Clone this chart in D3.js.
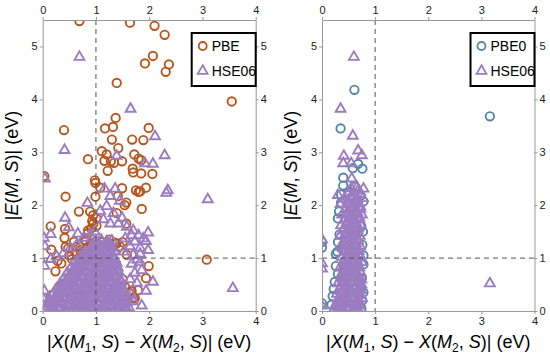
<!DOCTYPE html>
<html>
<head>
<meta charset="utf-8">
<script src="https://cdn.jsdelivr.net/npm/d3@7"></script>
<style>
body { margin: 0; background: #fff; }
text { font-family: "Liberation Sans", Arial, sans-serif; }
</style>
</head>
<body>
<script>
var svgWidth = 550;
var svgHeigth = 362;

var xTicks = [0, 1, 2, 3, 4];
var yTicks = [0, 1, 2, 3, 4, 5];

// left panel: PBE circles
var pbeLeft = [
  [0.69,5.48],[1.64,5.45],[2.10,5.39],[2.29,5.22],[2.07,4.82],[1.92,4.68],[2.37,4.66],[2.31,4.52],
  [1.39,4.31],[3.55,3.96],[1.37,3.65],[0.40,3.42],[1.17,3.45],[1.32,3.48],[1.99,3.46],[1.30,3.24],
  [1.68,3.24],[1.89,3.23],[1.42,3.08],[1.11,3.02],[1.20,2.96],[1.72,2.96],[0.85,2.87],[1.16,2.84],
  [1.34,2.80],[1.49,2.83],[1.28,2.83],[1.80,2.88],[1.85,2.85],[1.22,2.65],[1.69,2.69],[1.70,2.62],
  [1.85,2.60],[2.06,2.59],[0.03,2.55],[0.98,2.47],
  [0.43,2.16],[0.68,1.88],[0.15,1.60],[0.42,1.55],[0.41,1.38],[0.16,1.16],[0.59,1.31],[0.43,1.21],
  [0.24,0.75],[0.99,2.42],[0.99,2.16],[1.08,2.33],[0.89,1.88],[0.95,1.81],[0.93,1.70],[0.85,1.52],
  [0.81,1.32],[1.01,1.61],[1.49,2.32],[1.41,2.17],[1.75,2.28],[1.80,2.25],[1.94,2.33],[1.57,2.05],
  [1.54,2.00],[1.86,1.93],[1.39,1.85],[1.57,1.65],[1.36,1.29],[1.23,1.29],[1.10,1.30],[1.58,1.06],
  [1.18,0.88],[1.99,0.85],[1.94,0.62],[3.08,0.97],[1.67,0.38],[1.70,0.25],[0.12,0.16],[1.83,2.26],
  [0.62,1.10],[0.70,1.15],[0.75,1.08],[0.82,1.18],[0.88,1.12],[0.95,1.22],[1.02,1.15],[1.08,1.25],
  [1.15,1.18],[1.22,1.24],[1.30,1.20],[1.38,1.27],[1.45,1.22],[1.50,1.30],[0.90,1.28],[1.25,1.35],
  [0.68,1.00],[0.55,0.98],[0.50,1.05],[0.79,1.34],[0.85,1.47],[0.91,1.56],[0.95,1.65],[1.01,1.75],
  [0.48,1.18],[0.63,1.21],[0.16,0.30],[0.22,0.20],[0.14,0.12],[0.30,0.45],[1.50,0.60],[1.55,0.45],
  [1.62,0.35],[1.73,0.24],[1.79,0.39],[0.35,0.90],[0.28,0.95]
];

// left panel: HSE06 triangles
var hseLeft = [
  [0.69,4.80],[1.65,3.82],[0.41,3.04],[2.11,3.30],[1.39,2.93],[2.29,2.94],[1.92,2.79],[2.07,2.78],
  [0.04,2.50],[2.35,2.28],[2.32,2.23],[3.10,2.11],[3.57,0.43],[1.98,1.48],[1.89,1.37],[1.94,1.32],
  [1.98,1.15],[1.83,1.08],[1.86,0.77],[2.07,0.55],[1.94,0.38],[1.86,0.10],
  [1.16,2.31],[1.36,2.31],[1.27,2.17],[1.45,2.08],[1.20,1.98],[1.08,1.89],[1.33,1.85],[1.49,1.76],
  [1.14,1.73],[1.27,1.65],[1.42,1.65],[1.58,1.59],[1.70,1.52],[1.67,1.43],[1.80,1.43],[1.55,1.37],
  [1.73,1.31],[1.64,1.22],[1.83,1.19],[1.52,1.12],[1.70,1.06],[1.77,0.97],[1.67,0.89],[1.83,0.92],
  [1.73,0.72],[1.64,0.60],[1.77,0.53],[1.67,0.31],[1.60,0.25],[1.70,0.18],[0.84,2.04],[0.98,1.50],
  [0.89,1.43],[0.77,1.38],[0.64,1.25],[0.52,1.19],[0.39,1.09],[0.26,1.03],[0.02,1.38],[0.04,1.22],
  [0.03,0.85],[0.15,0.98],[0.15,1.45],[0.49,1.58],[0.66,1.46],[0.42,1.76],[0.00,0.25],[0.03,0.38],
  [0.05,0.03],[0.14,0.05],[0.22,0.02],[0.31,0.04],[0.40,0.01],[0.48,0.05],[0.57,0.03],[0.66,0.02],
  [0.74,0.05],[0.83,0.03],[0.92,0.01],[1.00,0.04],[1.09,0.02],[1.18,0.05],[1.27,0.03],[1.36,0.02],
  [1.45,0.04],[1.55,0.03],[1.62,0.06],
  [0.08,0.13],[0.18,0.11],[0.27,0.14],[0.35,0.12],[0.45,0.10],[0.53,0.13],[0.62,0.12],[0.70,0.14],
  [0.79,0.11],[0.88,0.13],[0.97,0.12],[1.05,0.10],[1.14,0.14],[1.23,0.12],[1.32,0.11],[1.41,0.13],
  [1.50,0.12],[1.58,0.15],
  [0.12,0.22],[0.22,0.24],[0.30,0.21],[0.40,0.23],[0.49,0.22],[0.58,0.20],[0.66,0.24],[0.75,0.22],
  [0.84,0.21],[0.93,0.23],[1.01,0.22],[1.10,0.24],[1.19,0.21],[1.28,0.22],[1.37,0.24],[1.46,0.21],
  [1.54,0.23],
  [0.20,0.33],[0.28,0.31],[0.37,0.34],[0.46,0.32],[0.55,0.31],[0.63,0.33],[0.72,0.32],[0.81,0.30],
  [0.90,0.33],[0.98,0.32],[1.07,0.34],[1.16,0.31],[1.25,0.32],[1.34,0.33],[1.43,0.31],[1.52,0.34],
  [0.26,0.42],[0.34,0.44],[0.43,0.41],[0.52,0.43],[0.60,0.42],[0.69,0.40],[0.78,0.43],[0.87,0.42],
  [0.96,0.41],[1.04,0.44],[1.13,0.42],[1.22,0.41],[1.31,0.43],[1.40,0.42],[1.50,0.44],
  [0.33,0.52],[0.42,0.54],[0.50,0.51],[0.59,0.53],[0.68,0.52],[0.76,0.50],[0.85,0.53],[0.94,0.52],
  [1.02,0.54],[1.11,0.51],[1.20,0.52],[1.29,0.53],[1.38,0.51],[1.47,0.54],
  [0.40,0.62],[0.48,0.64],[0.57,0.61],[0.65,0.63],[0.74,0.62],[0.83,0.60],[0.91,0.63],[1.00,0.62],
  [1.09,0.64],[1.18,0.61],[1.27,0.62],[1.36,0.63],[1.45,0.61],
  [0.46,0.72],[0.55,0.74],[0.63,0.71],[0.72,0.73],[0.81,0.72],[0.89,0.70],[0.98,0.73],[1.07,0.72],
  [1.16,0.74],[1.25,0.71],[1.34,0.72],[1.43,0.73],
  [0.53,0.82],[0.61,0.84],[0.70,0.81],[0.79,0.83],[0.87,0.82],[0.96,0.80],[1.05,0.83],[1.14,0.82],
  [1.23,0.84],[1.32,0.81],[1.41,0.82],
  [0.60,0.92],[0.68,0.94],[0.77,0.91],[0.85,0.93],[0.94,0.92],[1.03,0.90],[1.12,0.93],[1.21,0.92],
  [1.30,0.94],[1.39,0.91],
  [0.70,1.02],[0.78,1.04],[0.87,1.01],[0.96,1.03],[1.05,1.02],[1.14,1.00],[1.23,1.03],[1.32,1.02],
  [0.80,1.12],[0.90,1.14],[0.99,1.11],[1.08,1.13],[1.17,1.12],[1.26,1.10],[1.35,1.13],
  [0.92,1.22],[1.01,1.24],[1.10,1.21],[1.19,1.23],[1.28,1.22],
  [1.00,1.32],[1.10,1.34],[1.20,1.31],[1.30,1.33],
  [0.10,0.08],[0.28,0.07],[0.50,0.09],[0.72,0.08],[0.94,0.07],[1.16,0.09],[1.38,0.08],[1.56,0.07],
  [0.15,0.18],[0.36,0.17],[0.58,0.19],[0.80,0.18],[1.02,0.17],[1.24,0.19],[1.46,0.18],
  [0.24,0.28],[0.44,0.27],[0.66,0.29],[0.88,0.28],[1.10,0.27],[1.32,0.29],[1.50,0.28],
  [0.30,0.38],[0.50,0.37],[0.72,0.39],[0.94,0.38],[1.16,0.37],[1.38,0.39],
  [0.38,0.48],[0.58,0.47],[0.80,0.49],[1.00,0.48],[1.22,0.47],[1.44,0.49],
  [0.45,0.58],[0.66,0.57],[0.88,0.59],[1.08,0.58],[1.30,0.57],
  [0.52,0.68],[0.74,0.67],[0.95,0.69],[1.15,0.68],[1.38,0.67],
  [0.60,0.78],[0.82,0.77],[1.02,0.79],[1.22,0.78],[1.40,0.77],
  [0.66,0.88],[0.90,0.87],[1.10,0.89],[1.30,0.88],
  [0.75,0.98],[0.98,0.97],[1.18,0.99],[1.36,0.98],
  [0.85,1.08],[1.04,1.07],[1.24,1.09],
  [0.96,1.18],[1.14,1.17],[1.32,1.19],
  [1.05,1.28],[1.25,1.27]
];

// right panel: PBE0 circles
var pbe0Right = [
  [0.61,4.18],[3.16,3.68],[0.35,3.45],[0.58,2.70],[0.68,2.78],[0.76,2.69],[0.40,2.52],[0.40,2.37],
  [0.36,2.20],[0.36,2.05],[0.32,1.88],[0.30,1.75],[0.73,2.18],[0.78,2.07],[0.74,1.60],[0.77,1.50],
  [0.29,1.12],[0.26,1.08],[0.78,0.88],[0.75,0.62],[0.72,0.45],[0.76,0.20],[0.24,0.55],[0.22,0.42],
  [0.20,0.28],[0.18,0.12],[0.28,0.08],[0.00,1.30],[0.00,1.20],[0.00,0.15],[0.62,2.35],[0.50,2.25],
  [0.33,1.45],[0.30,1.30],[0.76,1.25],[0.78,1.05],[0.26,0.85],[0.30,0.70],[0.78,0.35],[0.74,0.05]
];

// right panel: HSE06 triangles
var hseRight = [
  [0.60,4.80],[0.35,3.82],[0.58,3.31],[0.41,2.93],[0.68,3.03],[0.75,2.94],[0.40,2.79],[0.55,2.79],
  [0.56,2.50],[0.30,2.19],[3.16,0.52],[0.00,1.35],[0.00,0.90],[0.00,0.80],[0.00,0.10],
  [0.22,0.03],[0.31,0.05],[0.40,0.02],[0.49,0.04],[0.58,0.03],[0.67,0.05],[0.75,0.02],
  [0.26,0.13],[0.35,0.11],[0.44,0.14],[0.53,0.12],[0.62,0.13],[0.71,0.11],
  [0.30,0.22],[0.39,0.24],[0.48,0.21],[0.57,0.23],[0.66,0.22],[0.75,0.24],
  [0.28,0.32],[0.37,0.34],[0.46,0.31],[0.55,0.33],[0.64,0.32],[0.72,0.30],
  [0.33,0.42],[0.42,0.44],[0.51,0.41],[0.60,0.43],[0.69,0.42],
  [0.30,0.52],[0.39,0.54],[0.48,0.51],[0.57,0.53],[0.66,0.52],[0.74,0.50],
  [0.35,0.62],[0.44,0.64],[0.53,0.61],[0.62,0.63],[0.70,0.62],
  [0.38,0.72],[0.47,0.74],[0.56,0.71],[0.65,0.73],[0.73,0.72],
  [0.34,0.82],[0.43,0.84],[0.52,0.81],[0.61,0.83],[0.70,0.82],
  [0.40,0.92],[0.49,0.94],[0.58,0.91],[0.67,0.93],[0.75,0.92],
  [0.37,1.02],[0.46,1.04],[0.55,1.01],[0.64,1.03],[0.72,1.02],
  [0.42,1.12],[0.51,1.14],[0.60,1.11],[0.69,1.13],
  [0.36,1.22],[0.45,1.24],[0.54,1.21],[0.63,1.23],[0.72,1.22],
  [0.41,1.32],[0.50,1.34],[0.59,1.31],[0.68,1.33],
  [0.34,1.42],[0.44,1.44],[0.53,1.41],[0.62,1.43],[0.71,1.42],
  [0.40,1.52],[0.49,1.54],[0.58,1.51],[0.67,1.53],
  [0.36,1.62],[0.46,1.64],[0.55,1.61],[0.64,1.63],[0.73,1.62],
  [0.42,1.72],[0.52,1.74],[0.61,1.71],[0.70,1.73],
  [0.38,1.82],[0.48,1.84],[0.57,1.81],[0.66,1.83],[0.75,1.82],
  [0.44,1.92],[0.54,1.94],[0.63,1.91],[0.72,1.93],
  [0.35,2.02],[0.50,2.04],[0.60,2.01],[0.69,2.03],
  [0.42,2.12],[0.56,2.14],[0.66,2.11],[0.77,2.13],
  [0.50,2.22],[0.60,2.24],[0.72,2.21],
  [0.55,2.32],[0.66,2.34],[0.78,2.31],
  [0.27,0.08],[0.45,0.07],[0.63,0.09],
  [0.33,0.18],[0.52,0.17],[0.70,0.19],
  [0.42,0.28],[0.60,0.27],
  [0.38,0.38],[0.56,0.37],[0.74,0.39],
  [0.45,0.48],[0.63,0.47],
  [0.40,0.58],[0.58,0.57],[0.74,0.59],
  [0.48,0.68],[0.66,0.67],
  [0.42,0.78],[0.60,0.77],
  [0.50,0.88],[0.68,0.87],
  [0.44,0.98],[0.62,0.97],
  [0.52,1.08],[0.70,1.07],
  [0.40,1.18],[0.58,1.17],
  [0.46,1.28],[0.64,1.27],
  [0.50,1.38],[0.66,1.37],
  [0.45,1.48],[0.62,1.47],
  [0.52,1.58],[0.68,1.57],
  [0.47,1.68],[0.64,1.67],
  [0.52,1.78],[0.70,1.77],
  [0.48,1.88],[0.66,1.87],
  [0.56,1.98],[0.72,1.97],
  [0.48,2.08],[0.62,2.07],
  [0.55,2.18],[0.68,2.28]
];

var svg = d3.select("body").append("svg").attr('width', svgWidth).attr('height', svgHeigth);

var top0 = 20, bottom0 = 311;

var yScale = d3.scaleLinear().domain([0, 5.5]).range([bottom0, top0]);

function drawPanel(id, left, right, circles, circleColor, circleName, triangles)
{
    var xScale = d3.scaleLinear().domain([0, 4]).range([left, right]);
    var g = svg.append("g");

    g.append("clipPath").attr("id", "clip" + id)
        .append("rect")
        .attr("x", left).attr("y", top0)
        .attr("width", right - left).attr("height", bottom0 - top0);

    var pts = g.append("g").attr("clip-path", "url(#clip" + id + ")");

    pts.selectAll("circle").data(circles).join("circle")
        .attr("cx", function(d) { return xScale(d[0]); })
        .attr("cy", function(d) { return yScale(d[1]); })
        .attr("r", 4.2)
        .attr("fill", "none")
        .attr("stroke", circleColor)
        .attr("stroke-width", 1.9);

    var tri = d3.symbol(d3.symbolTriangle, 42);
    pts.selectAll("path.tri").data(triangles).join("path")
        .attr("class", "tri")
        .attr("d", tri)
        .attr("transform", function(d) { return "translate(" + xScale(d[0]) + "," + yScale(d[1]) + ")"; })
        .attr("fill", "none")
        .attr("stroke", "#9c7cc1")
        .attr("stroke-width", 1.9);

    // dashed guides
    g.append("line")
        .attr("x1", xScale(1)).attr("x2", xScale(1))
        .attr("y1", top0).attr("y2", bottom0)
        .attr("stroke", "#555").attr("stroke-dasharray", "5,4");
    g.append("line")
        .attr("x1", left).attr("x2", right)
        .attr("y1", yScale(1)).attr("y2", yScale(1))
        .attr("stroke", "#555").attr("stroke-dasharray", "5,4");

    // axes
    var fmt = d3.format("d");
    var axB = g.append("g").attr("transform", "translate(0," + bottom0 + ")")
        .call(d3.axisBottom(xScale).tickValues(xTicks).tickFormat(fmt).tickSize(3).tickSizeOuter(0).tickPadding(3));
    var axT = g.append("g").attr("transform", "translate(0," + top0 + ")")
        .call(d3.axisTop(xScale).tickValues(xTicks).tickFormat(fmt).tickSize(3).tickSizeOuter(0).tickPadding(3));
    var axL = g.append("g").attr("transform", "translate(" + left + ",0)")
        .call(d3.axisLeft(yScale).tickValues(yTicks).tickFormat(fmt).tickSize(3).tickSizeOuter(0).tickPadding(2));
    var axR = g.append("g").attr("transform", "translate(" + right + ",0)")
        .call(d3.axisRight(yScale).tickValues(yTicks).tickFormat(fmt).tickSize(3).tickSizeOuter(0).tickPadding(2));

    [axB, axT, axL, axR].forEach(function(a) {
        a.select(".domain").attr("stroke", "#999");
        a.selectAll(".tick line").attr("stroke", "#999");
        a.selectAll("text").attr("font-size", 11).attr("fill", "#222")
            .attr("font-family", "Liberation Sans, Arial, sans-serif");
    });

    // legend
    var lx = right - 64, ly = 33;
    g.append("rect")
        .attr("x", lx).attr("y", ly).attr("width", 64).attr("height", 53)
        .attr("fill", "#fff").attr("stroke", "#000").attr("stroke-width", 2);
    g.append("circle")
        .attr("cx", lx + 11).attr("cy", ly + 13).attr("r", 4)
        .attr("fill", "none").attr("stroke", circleColor).attr("stroke-width", 1.8);
    g.append("text").attr("x", lx + 20).attr("y", ly + 18)
        .attr("font-size", 14).text(circleName);
    g.append("path").attr("d", tri)
        .attr("transform", "translate(" + (lx + 11) + "," + (ly + 38) + ")")
        .attr("fill", "none").attr("stroke", "#9c7cc1").attr("stroke-width", 1.8);
    g.append("text").attr("x", lx + 20).attr("y", ly + 43)
        .attr("font-size", 14).text("HSE06");

    // y label
    var yl = g.append("text")
        .attr("transform", "translate(" + (left - 25) + "," + ((top0 + bottom0) / 2) + ") rotate(-90)")
        .attr("text-anchor", "middle")
        .attr("font-family", "Liberation Serif, Times New Roman, serif")
        .attr("font-size", 18);
    yl.append("tspan").text("|");
    yl.append("tspan").attr("font-style", "italic").text("E");
    yl.append("tspan").text("(");
    yl.append("tspan").attr("font-style", "italic").text("M");
    yl.append("tspan").text(", ");
    yl.append("tspan").attr("font-style", "italic").text("S");
    yl.append("tspan").text(")| (eV)");

    // x label
    var xl = g.append("text")
        .attr("x", (left + right) / 2).attr("y", 348)
        .attr("text-anchor", "middle")
        .attr("font-family", "Liberation Serif, Times New Roman, serif")
        .attr("font-size", 18);
    xl.append("tspan").text("|");
    xl.append("tspan").attr("font-style", "italic").text("X");
    xl.append("tspan").text("(");
    xl.append("tspan").attr("font-style", "italic").text("M");
    xl.append("tspan").attr("font-size", 12).attr("dy", 4).text("1");
    xl.append("tspan").attr("dy", -4).text(", ");
    xl.append("tspan").attr("font-style", "italic").text("S");
    xl.append("tspan").text(") \u2212 ");
    xl.append("tspan").attr("font-style", "italic").text("X");
    xl.append("tspan").text("(");
    xl.append("tspan").attr("font-style", "italic").text("M");
    xl.append("tspan").attr("font-size", 12).attr("dy", 4).text("2");
    xl.append("tspan").attr("dy", -4).text(", ");
    xl.append("tspan").attr("font-style", "italic").text("S");
    xl.append("tspan").text(")| (eV)");
}

drawPanel("L", 42.7, 255.7, pbeLeft, "#b8561e", "PBE", hseLeft);
drawPanel("R", 322, 534.5, pbe0Right, "#5585a8", "PBE0", hseRight);
</script>
</body>
</html>
